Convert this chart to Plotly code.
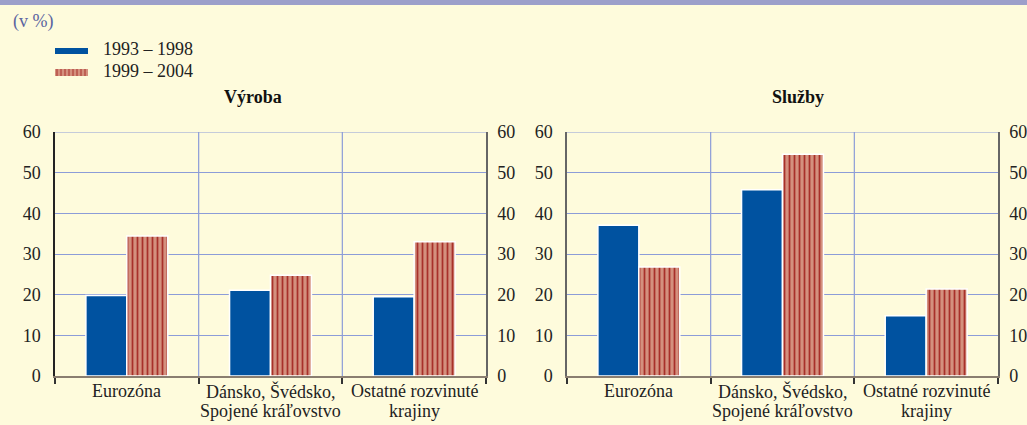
import plotly.graph_objects as go

categories = ["Eurozóna", "Dánsko, Švédsko,<br>Spojené kráľovstvo", "Ostatné rozvinuté<br>krajiny"]
series_names = ["1993 – 1998", "1999 – 2004"]
vyroba_9398 = [19.8, 21.1, 19.5]
vyroba_9904 = [34.4, 24.8, 33.0]
sluzby_9398 = [37.1, 45.8, 14.8]
sluzby_9904 = [26.8, 54.5, 21.4]
panel_titles = ["Výroba", "Služby"]
yticks = [0, 10, 20, 30, 40, 50, 60]

W, H = 1027, 425
BG = "#FEFBDC"
BLUE = "#0052A0"
RED_BG = "#D4907E"
RED_FG = "#A8302A"
GRID = "#8C9CD8"
FONT = "Liberation Serif"
FS = 18

xpos = list(range(len(categories)))

fig = go.Figure()

panels = [
    dict(x="x", y="y", yr="y3", d1=vyroba_9398, d2=vyroba_9904),
    dict(x="x2", y="y2", yr="y4", d1=sluzby_9398, d2=sluzby_9904),
]

for p in panels:
    fig.add_trace(go.Bar(x=xpos, y=p["d1"], name=series_names[0], xaxis=p["x"], yaxis=p["y"],
                         marker=dict(color=BLUE, line=dict(color="white", width=1.5)),
                         showlegend=False))
    fig.add_trace(go.Bar(x=xpos, y=p["d2"], name=series_names[1], xaxis=p["x"], yaxis=p["y"],
                         marker=dict(color=RED_BG, line=dict(color="white", width=1.5),
                                     pattern=dict(shape="|", bgcolor=RED_BG, fgcolor=RED_FG,
                                                  size=5, solidity=0.35, fillmode="replace")),
                         showlegend=False))
    fig.add_trace(go.Scatter(x=[None], y=[None], xaxis=p["x"], yaxis=p["yr"],
                             showlegend=False, hoverinfo="skip"))

def px_x(v):
    return v / W

def px_y(v):
    return 1 - v / H

L1, R1 = 55, 486
L2, R2 = 567, 998
YB, YT = 376, 132

ydom = [px_y(YB), px_y(YT)]
tickfont = dict(family=FONT, size=FS, color="#222")

xcommon = dict(range=[-0.5, 2.5], tickvals=xpos, showticklabels=False, ticks="",
               showgrid=False, zeroline=False, showline=True, linecolor="#8A7E70", linewidth=2,
               automargin=False,
               minor=dict(tickvals=[-0.5, 0.5, 1.5, 2.5], ticks="outside", ticklen=6,
                          tickcolor="#333", tickwidth=1.5))
ycommon = dict(range=[0, 60], tickvals=yticks, showgrid=True, gridcolor=GRID, gridwidth=1.2,
               zeroline=False, showline=True, linewidth=1.5, tickfont=tickfont,
               ticks="", ticklabelstandoff=9, automargin=False)
yright = dict(range=[0, 60], tickvals=yticks, side="right", showgrid=False, zeroline=False,
              showline=True, linecolor="#666", linewidth=1.5, tickfont=tickfont, ticks="",
              ticklabelstandoff=6, automargin=False)

fig.update_layout(
    width=W, height=H,
    margin=dict(l=0, r=0, t=0, b=0, autoexpand=False),
    paper_bgcolor=BG, plot_bgcolor=BG,
    font=dict(family=FONT),
    barmode="group", bargap=0.43, bargroupgap=0,
    showlegend=False,
    xaxis=dict(domain=[px_x(L1), px_x(R1)], anchor="y", **xcommon),
    xaxis2=dict(domain=[px_x(L2), px_x(R2)], anchor="y2", **xcommon),
    yaxis=dict(domain=ydom, anchor="x", linecolor="#222", **ycommon),
    yaxis2=dict(domain=ydom, anchor="x2", linecolor="#666", **ycommon),
    yaxis3=dict(overlaying="y", anchor="x", **yright),
    yaxis4=dict(overlaying="y2", anchor="x2", **yright),
)

shapes = []
shapes.append(dict(type="rect", xref="paper", yref="paper", x0=0, x1=1, y0=px_y(5), y1=1,
                   fillcolor="#9C9FCA", line=dict(width=0), layer="below"))
for xr, yr in [("x", "y"), ("x2", "y2")]:
    for b in [0.5, 1.5]:
        shapes.append(dict(type="line", xref=xr, yref=yr, x0=b, x1=b, y0=0, y1=60,
                           line=dict(color=GRID, width=1.2), layer="below"))
    shapes.append(dict(type="line", xref=xr, yref=yr, x0=-0.5, x1=2.5, y0=60, y1=60,
                       line=dict(color=GRID, width=1.2), layer="below"))

sw_x0, sw_x1 = 55, 88
shapes.append(dict(type="rect", xref="paper", yref="paper", x0=px_x(sw_x0), x1=px_x(sw_x1),
                   y0=px_y(54), y1=px_y(48), fillcolor=BLUE, line=dict(width=0)))
shapes.append(dict(type="rect", xref="paper", yref="paper", x0=px_x(sw_x0), x1=px_x(sw_x1),
                   y0=px_y(76), y1=px_y(69), fillcolor=RED_BG, line=dict(width=0)))
xx = sw_x0 + 2
while xx < sw_x1:
    shapes.append(dict(type="line", xref="paper", yref="paper", x0=px_x(xx), x1=px_x(xx),
                       y0=px_y(76), y1=px_y(69), line=dict(color=RED_FG, width=1)))
    xx += 4
fig.update_layout(shapes=shapes)

annotations = [
    dict(text="(v %)", x=px_x(11), y=px_y(22), xref="paper", yref="paper", xanchor="left",
         yanchor="middle", showarrow=False, font=dict(family=FONT, size=FS, color="#5A64A0")),
    dict(text=series_names[0], x=px_x(101), y=px_y(49), xref="paper", yref="paper",
         xanchor="left", yanchor="middle", showarrow=False,
         font=dict(family=FONT, size=FS, color="#222")),
    dict(text=series_names[1], x=px_x(101), y=px_y(71), xref="paper", yref="paper",
         xanchor="left", yanchor="middle", showarrow=False,
         font=dict(family=FONT, size=FS, color="#222")),
    dict(text="<b>" + panel_titles[0] + "</b>", x=px_x(253), y=px_y(97), xref="paper",
         yref="paper", xanchor="center", yanchor="middle", showarrow=False,
         font=dict(family=FONT, size=FS, color="#111")),
    dict(text="<b>" + panel_titles[1] + "</b>", x=px_x(798), y=px_y(97), xref="paper",
         yref="paper", xanchor="center", yanchor="middle", showarrow=False,
         font=dict(family=FONT, size=FS, color="#111")),
]
# category labels (two lines each, tight line spacing as in the reference)
line_y = [391, 411]
for xr in ["x", "x2"]:
    for i, cat in enumerate(categories):
        for j, line in enumerate(cat.split("<br>")):
            annotations.append(dict(text=line, x=xpos[i], y=px_y(line_y[j]), xref=xr,
                                    yref="paper", xanchor="center", yanchor="middle",
                                    showarrow=False,
                                    font=dict(family=FONT, size=FS, color="#222")))
fig.update_layout(annotations=annotations)

fig.write_html("out.html")
